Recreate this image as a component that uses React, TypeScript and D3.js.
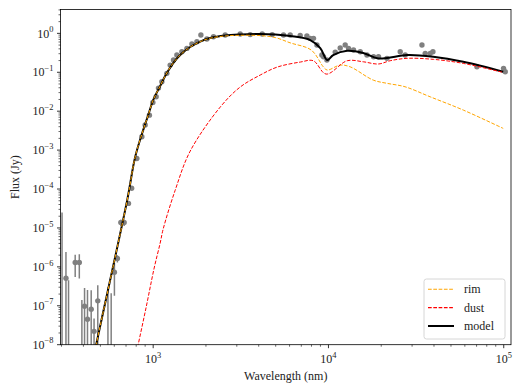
import React from 'react';
import * as d3 from 'd3';

const W = 513;
const H = 385;

// Model curves (wavelength in nm, flux in Jy)
const rimWavelength = [440, 473, 711, 789, 877, 937, 1000, 1096, 1187, 1301, 1445, 1626, 1854, 2115, 2576, 3136, 4080, 4968, 6050, 7980, 9350, 9840, 11650, 13300, 17990, 21620, 27340, 38050, 58730, 99300];
const rimFlux = [2e-9, 1e-8, 5.19e-5, 6.6e-4, 3.27e-3, 7.9e-3, 0.0193, 0.0442, 0.0899, 0.1725, 0.294, 0.444, 0.612, 0.75, 0.857, 0.889, 0.875, 0.78, 0.57, 0.372, 0.138, 0.114, 0.153, 0.138, 0.063, 0.0519, 0.0424, 0.0234, 0.0107, 0.00361];

const dustWavelength = [780, 821, 912, 1013, 1096, 1140, 1335, 1626, 2411, 3135, 4080, 5105, 6910, 8190, 9700, 12790, 15790, 19230, 22500, 28120, 39630, 58730, 99300];
const dustFlux = [3.4e-9, 1e-8, 9.2e-8, 9.3e-7, 4.07e-6, 9.3e-6, 9.3e-5, 9.4e-4, 0.0127, 0.0417, 0.0848, 0.136, 0.183, 0.198, 0.0899, 0.198, 0.186, 0.163, 0.198, 0.228, 0.215, 0.169, 0.099];

const modelWavelength = [440, 473, 711, 789, 877, 937, 1000, 1096, 1187, 1301, 1445, 1626, 1854, 2115, 2576, 3136, 4080, 4968, 6050, 7870, 8980, 9840, 10640, 12790, 15790, 18970, 21620, 28120, 39630, 58730, 99300];
const modelFlux = [2e-9, 1e-8, 5.19e-5, 6.6e-4, 3.27e-3, 7.9e-3, 0.0193, 0.0442, 0.0899, 0.1725, 0.294, 0.445, 0.615, 0.757, 0.877, 0.931, 0.96, 0.931, 0.853, 0.673, 0.419, 0.206, 0.277, 0.357, 0.312, 0.228, 0.232, 0.277, 0.25, 0.186, 0.103];

// Observed photometry
const dataWavelength = [302, 318, 329, 359, 379, 392, 406, 422, 443, 460, 483, 552, 576, 601, 625, 654, 683, 723,
  754, 807, 862, 900, 952, 996, 1040, 1072, 1121, 1197, 1250, 1306, 1365, 1458, 1557, 1663, 1776, 1872, 2025, 2208,
  2576, 3136, 3577, 4188, 4776, 5540, 6050, 6900, 7534, 7867, 8217, 8594, 9176, 9370, 9800, 10930, 11670, 12460,
  13020, 13900, 15180, 16580, 18080, 19300, 21560, 25670, 27420, 34150, 35650, 38070, 39450, 70310, 99750, 102000];
const dataFlux = [-1e-6, 5.1e-7, -1e-7, 1.3e-6, 1.3e-6, -5e-8, 9.7e-8, 4.5e-8, 8.2e-8, 2.2e-8, 1.34e-7, -5e-8, -3e-8, 7.3e-7, 1.64e-6, 1.38e-5, 1.38e-5, 4.27e-5,
  1.05e-4, 6.1e-4, 2.2e-3, 4.4e-3, 7.9e-3, 0.0168, 0.0234, 0.0392, 0.057, 0.0937, 0.153, 0.206, 0.277, 0.336, 0.411, 0.531, 0.608, 0.904, 0.714, 0.818,
  0.904, 0.96, 0.93, 0.96, 0.93, 0.904, 0.904, 0.878, 0.853, 0.743, 0.743, 0.5, 0.277, 0.25, 0.206, 0.33, 0.419, 0.5,
  0.411, 0.372, 0.336, 0.277, 0.25, 0.25, 0.228, 0.336, 0.277, 0.5, 0.306, 0.306, 0.336, 0.138, 0.126, 0.103];
const dataError = [2.6e-5, 1.9e-6, 5.5e-7, 7.5e-7, 8e-7, 1.9e-7, 1.9e-7, 2.1e-7, 1.7e-7, 2.5e-8, 2.05e-7, 3.5e-7, 2.4e-7, 5.5e-7, 3.5e-7, 2.5e-6, 2.5e-6, 5e-6,
  8e-6, 4e-5, 1e-4, 2e-4, 4e-4, 8e-4, 1e-3, 2e-3, 3e-3, 5e-3, 8e-3, 0.01, 0.014, 0.017, 0.02, 0.027, 0.03, 0.045, 0.036, 0.04,
  0.045, 0.048, 0.047, 0.048, 0.047, 0.045, 0.045, 0.044, 0.043, 0.037, 0.037, 0.025, 0.014, 0.013, 0.01, 0.017, 0.021, 0.025,
  0.02, 0.019, 0.017, 0.014, 0.013, 0.013, 0.011, 0.017, 0.014, 0.025, 0.015, 0.015, 0.017, 0.007, 0.006, 0.005];

const xMajor = [1e3, 1e4, 1e5];
const xMajorExp = ['3', '4', '5'];
const yMajorExp = [0, -1, -2, -3, -4, -5, -6, -7, -8];

const legendItems = [
  { label: 'rim', color: '#ffa500', dash: '3.7,1.6', width: 1.1 },
  { label: 'dust', color: '#ff0000', dash: '3.7,1.6', width: 1.1 },
  { label: 'model', color: '#000000', dash: '', width: 2 },
];

const FONT = '"Liberation Serif", "DejaVu Serif", serif';
const FS = 12;
const FSUP = 8.4;

export default function App() {
  const L = 60.5, R = 511, T = 9.5, B = 344.7;
  const yMin = 1e-8, yMax = 4.1;
  const x = d3.scaleLog().domain([296, 1.1e5]).range([L, R]);
  const y = d3.scaleLog().domain([yMin, yMax]).range([B, T]);

  const mk = (wl: number[], fl: number[]) => {
    const line = d3.line<number>()
      .x((_, i) => x(wl[i]))
      .y((_, i) => y(fl[i]))
      .curve(d3.curveCatmullRom.alpha(0.5));
    return line(fl) || '';
  };

  const xMinor: number[] = [];
  [2, 3, 4].forEach((e) => {
    for (let m = 2; m <= 9; m++) {
      const v = m * Math.pow(10, e);
      if (v >= 296 && v <= 1.1e5) xMinor.push(v);
    }
  });
  const yMinor: number[] = [];
  for (let e = -8; e <= 0; e++) {
    for (let m = 2; m <= 9; m++) {
      const v = m * Math.pow(10, e);
      if (v >= yMin && v <= yMax) yMinor.push(v);
    }
  }

  const clampY = (v: number) => (v <= yMin ? B + 5 : y(v));

  return (
    <svg width={W} height={H} style={{ position: 'absolute', left: 0, top: 0, background: '#fff' }} fontFamily={FONT}>
      <defs>
        <clipPath id="plotclip">
          <rect x={L} y={T} width={R - L} height={B - T} />
        </clipPath>
      </defs>
      <rect x={0} y={0} width={W} height={H} fill="#fff" />
      <g clipPath="url(#plotclip)">
        {dataWavelength.map((wl, i) => {
          const f = dataFlux[i];
          const e = dataError[i];
          const hi = f + e;
          const lo = f - e;
          const cx = x(wl);
          return (
            <g key={'d' + i}>
              {hi > yMin && (
                <line x1={cx} x2={cx} y1={clampY(lo)} y2={y(hi)} stroke="#808080" strokeWidth={1.5} />
              )}
              {f > yMin && <circle cx={cx} cy={y(f)} r={2.7} fill="#808080" />}
            </g>
          );
        })}
        <path d={mk(modelWavelength, modelFlux)} fill="none" stroke="#000" strokeWidth={2} />
        <path d={mk(rimWavelength, rimFlux)} fill="none" stroke="#ffa500" strokeWidth={1} strokeDasharray="3.7,1.6" />
        <path d={mk(dustWavelength, dustFlux)} fill="none" stroke="#ff0000" strokeWidth={1} strokeDasharray="3.7,1.6" />
      </g>

      <rect x={L} y={T} width={R - L} height={B - T} fill="none" stroke="#000" strokeWidth={0.8} />

      {xMinor.map((v, i) => (
        <line key={'xm' + i} x1={x(v)} x2={x(v)} y1={B} y2={B + 2} stroke="#000" strokeWidth={0.6} />
      ))}
      {xMajor.map((v, i) => (
        <g key={'xM' + i}>
          <line x1={x(v)} x2={x(v)} y1={B} y2={B + 3.5} stroke="#000" strokeWidth={0.8} />
          <text x={x(v)} y={363} textAnchor="middle" fontSize={FS} fill="#222">
            10<tspan dy={-5.5} fontSize={FSUP}>{xMajorExp[i]}</tspan>
          </text>
        </g>
      ))}

      {yMinor.map((v, i) => (
        <line key={'ym' + i} x1={L - 2} x2={L} y1={y(v)} y2={y(v)} stroke="#000" strokeWidth={0.6} />
      ))}
      {yMajorExp.map((e, i) => {
        const v = Math.pow(10, e);
        return (
          <g key={'yM' + i}>
            <line x1={L - 3.5} x2={L} y1={y(v)} y2={y(v)} stroke="#000" strokeWidth={0.8} />
            <text x={53.5} y={y(v) + 4.2} textAnchor="end" fontSize={FS} fill="#222">
              10<tspan dy={-5.5} fontSize={FSUP}>{e < 0 ? '\u2212' + Math.abs(e) : String(e)}</tspan>
            </text>
          </g>
        );
      })}

      <text x={(L + R) / 2} y={380} textAnchor="middle" fontSize={FS} fill="#222">Wavelength (nm)</text>
      <text transform={`translate(19,${(T + B) / 2}) rotate(-90)`} textAnchor="middle" fontSize={FS} fill="#222">Flux (Jy)</text>

      <rect x={424} y={279} width={81} height={60} rx={2.5} fill="#fff" fillOpacity={0.8} stroke="#cccccc" strokeWidth={0.8} />
      {legendItems.map((it, i) => {
        const ly = 289.2 + i * 18.4;
        return (
          <g key={'lg' + i}>
            <line x1={428} x2={454} y1={ly} y2={ly} stroke={it.color} strokeWidth={it.width} strokeDasharray={it.dash || undefined} />
            <text x={464} y={ly + 4} fontSize={FS} fill="#222">{it.label}</text>
          </g>
        );
      })}
    </svg>
  );
}
